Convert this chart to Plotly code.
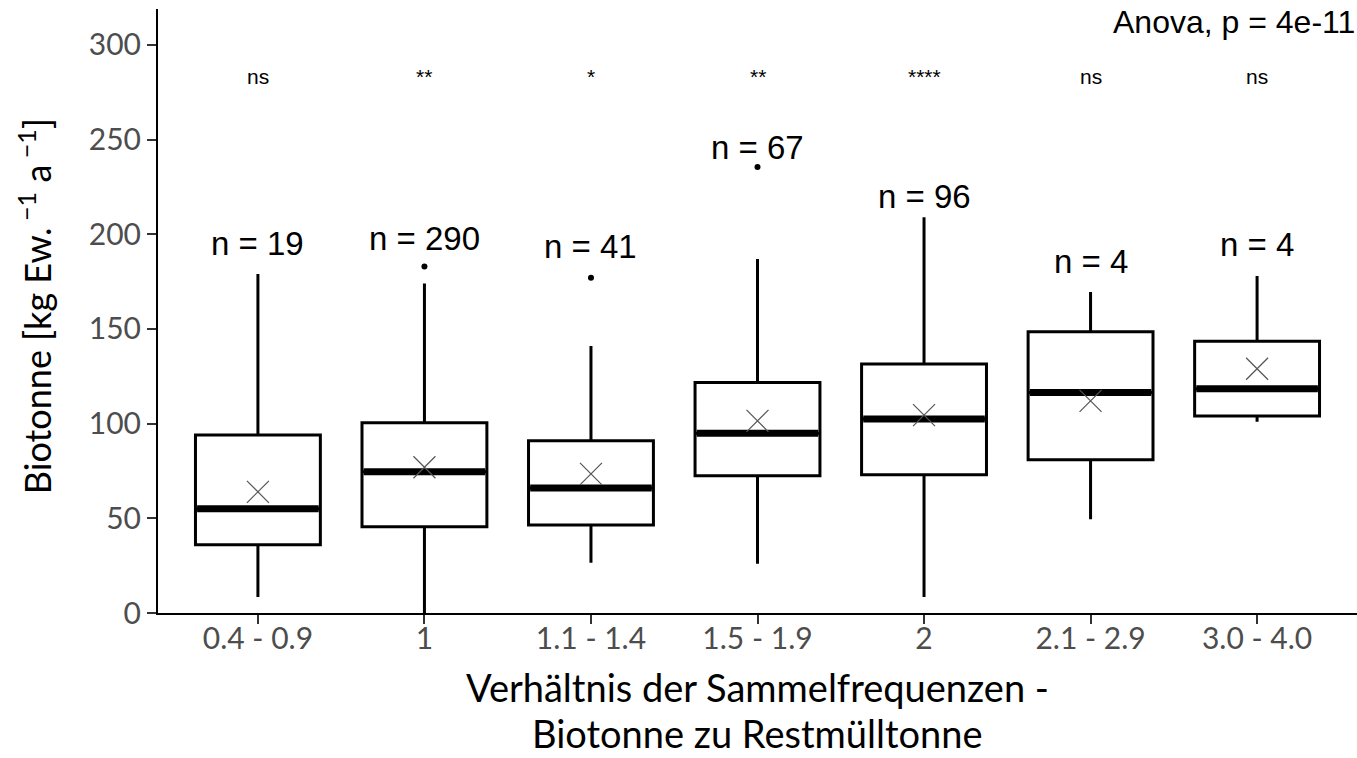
import plotly.graph_objects as go

categories = ["0.4 - 0.9", "1", "1.1 - 1.4", "1.5 - 1.9", "2", "2.1 - 2.9", "3.0 - 4.0"]
lower_whisker = [8.5, 0, 26.5, 26, 8.5, 49.5, 101]
q1 = [36, 45.5, 46.5, 72.5, 73, 81, 104]
median = [55, 74.6, 66, 95, 102.5, 116.5, 118.5]
q3 = [94, 100.5, 91, 121.7, 131.5, 148.5, 143.5]
upper_whisker = [179, 174, 141, 187, 209, 169.5, 178]
means = [64, 77, 73.5, 101.5, 104.5, 112, 129]
outlier_x = [1, 2, 3]
outlier_y = [183, 177, 235.5]
n_counts = [19, 290, 41, 67, 96, 4, 4]
n_label_y = [195, 198, 193.5, 246, 220, 185.5, 194.5]
signif = ["ns", "**", "*", "**", "****", "ns", "ns"]
signif_y = 283.5
anova_text = "Anova, p = 4e-11"
x_title_lines = ["Verhältnis der Sammelfrequenzen -", "Biotonne zu Restmülltonne"]
y_title = "Biotonne [kg Ew.<sup> −1</sup> a<sup> −1</sup>]"

box_width = 0.75
xs = list(range(len(categories)))

fig = go.Figure()
for i in xs:
    fig.add_trace(go.Box(
        x=[i], q1=[q1[i]], median=[median[i]], q3=[q3[i]],
        lowerfence=[lower_whisker[i]], upperfence=[upper_whisker[i]],
        width=box_width, whiskerwidth=0,
        fillcolor="white", line=dict(color="black", width=3),
        boxpoints=False, showlegend=False, hoverinfo="skip",
    ))

# thick median segments
mx, my = [], []
for i in xs:
    mx += [i - box_width / 2 + 0.01, i + box_width / 2 - 0.01, None]
    my += [median[i], median[i], None]
fig.add_trace(go.Scatter(x=mx, y=my, mode="lines", line=dict(color="black", width=7),
                         showlegend=False, hoverinfo="skip"))

# outliers
fig.add_trace(go.Scatter(x=outlier_x, y=outlier_y, mode="markers",
                         marker=dict(color="black", size=6), showlegend=False))

# means
fig.add_trace(go.Scatter(x=xs, y=means, mode="markers",
                         marker=dict(symbol="x-thin", size=22, line=dict(color="#555555", width=1.2)),
                         showlegend=False))

for i in xs:
    fig.add_annotation(x=i, y=n_label_y[i], text=f"n = {n_counts[i]}", showarrow=False,
                       font=dict(family="Liberation Sans", size=33, color="black"),
                       xanchor="center", yanchor="middle")
    fig.add_annotation(x=i, y=signif_y, text=signif[i], showarrow=False,
                       font=dict(family="Liberation Sans", size=21, color="black"),
                       xanchor="center", yanchor="middle")

fig.add_annotation(xref="paper", x=1.0, y=312, text=anova_text, showarrow=False,
                   font=dict(family="Liberation Sans", size=32, color="black"),
                   xanchor="right", yanchor="middle")

# axis titles
title_font = dict(family="Lato", size=38, color="black")
fig.add_annotation(xref="paper", yref="paper", x=0.5, y=-0.1233, text=x_title_lines[0],
                   showarrow=False, font=title_font, xanchor="center", yanchor="middle")
fig.add_annotation(xref="paper", yref="paper", x=0.5, y=-0.2395, text=x_title_lines[1],
                   showarrow=False, font=title_font, xanchor="center", yanchor="bottom")
fig.add_annotation(xref="paper", yref="paper", x=-0.1026, y=0.508, text=y_title, showarrow=False,
                   font=dict(family="Lato", size=36, color="black"), textangle=-90,
                   xanchor="center", yanchor="middle")

axis_font = dict(family="Lato", size=30, color="#4D4D4D")
fig.update_layout(
    width=1357, height=758,
    margin=dict(l=158, r=0, t=9, b=145),
    plot_bgcolor="white", paper_bgcolor="white",
    xaxis=dict(range=[-0.6, 6.6], tickmode="array", tickvals=xs, ticktext=categories,
               showgrid=False, zeroline=False, showline=True, linecolor="black", linewidth=2,
               ticks="outside", ticklen=9, tickwidth=2, tickcolor="#333333",
               tickfont=axis_font, ticklabelstandoff=-11),
    yaxis=dict(range=[0, 319], tickvals=[0, 50, 100, 150, 200, 250, 300],
               showgrid=False, zeroline=False, showline=True, linecolor="black", linewidth=2,
               ticks="outside", ticklen=9, tickwidth=2, tickcolor="#333333",
               tickfont=axis_font),
)

fig.write_html("out.html", config={"displayModeBar": False},
               post_script="document.body.style.margin='0px';")
